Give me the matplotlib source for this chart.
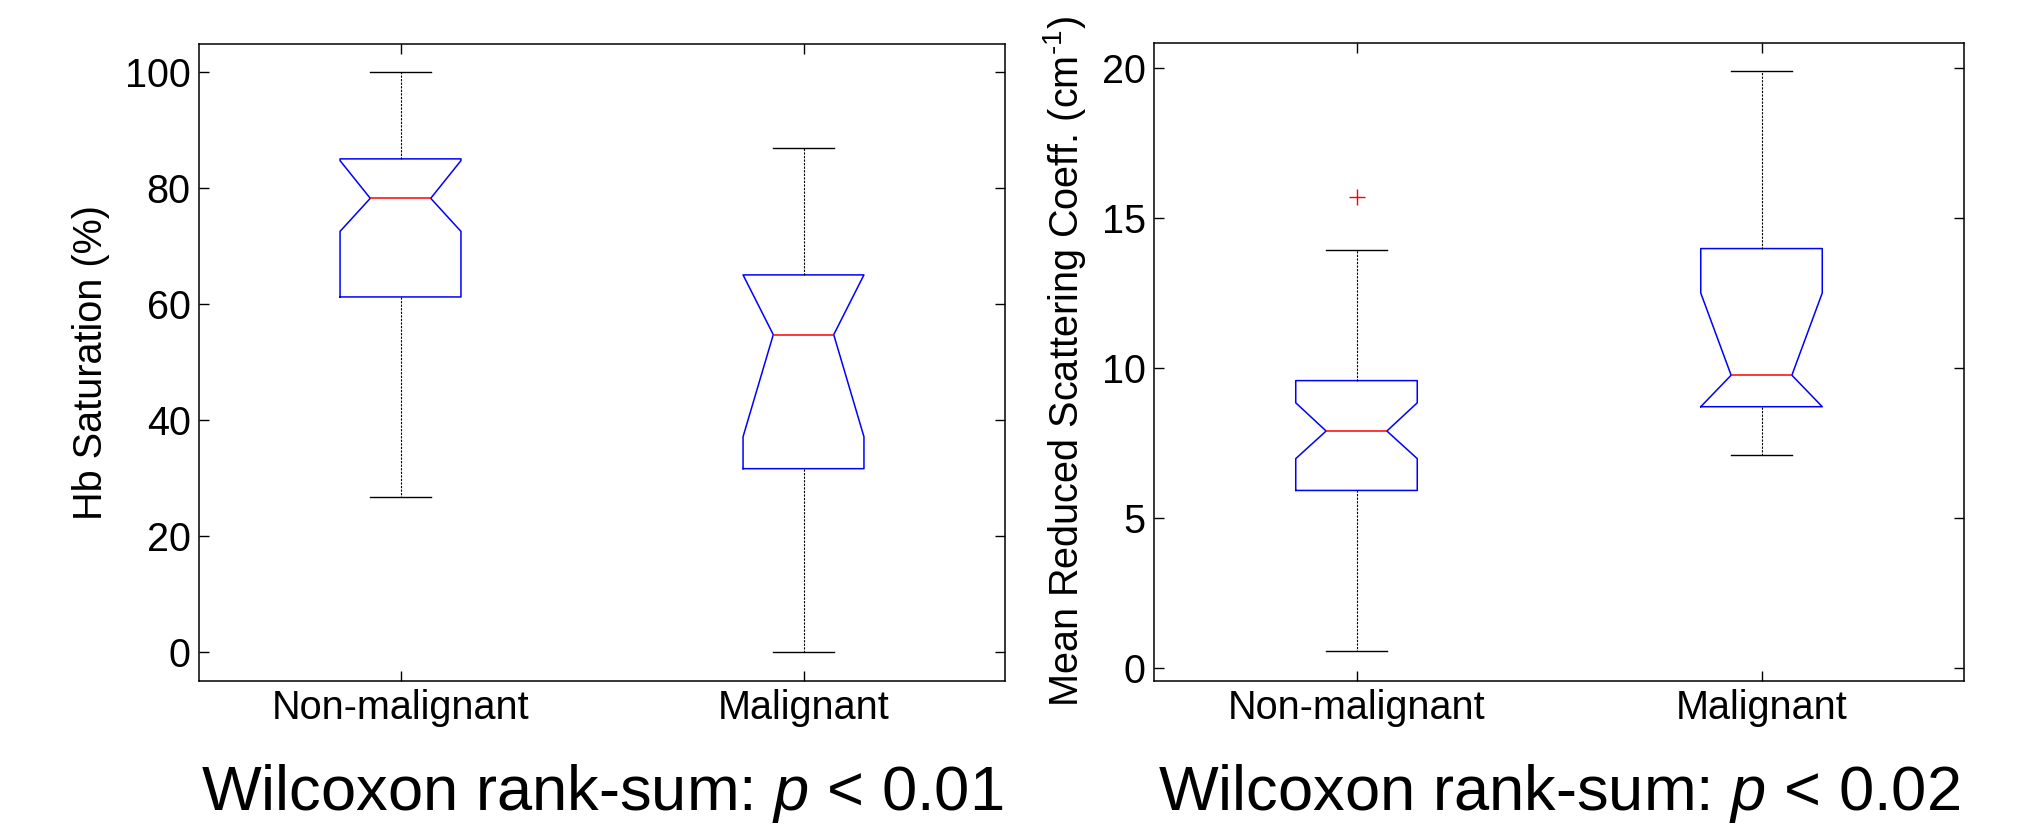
import matplotlib
matplotlib.use("Agg")
import matplotlib.pyplot as plt

plt.rcParams['font.family'] = ['Liberation Sans', 'DejaVu Sans']
plt.rcParams['mathtext.fontset'] = 'custom'
plt.rcParams['mathtext.rm'] = 'Liberation Sans'
plt.rcParams['mathtext.it'] = 'Liberation Sans:italic'

categories = ["Non-malignant", "Malignant"]

# Hb saturation (%) box statistics
hb_whislo = [26.8, 0.0]
hb_q1 = [61.2, 31.6]
hb_cilo = [72.5, 37.1]
hb_med = [78.2, 54.7]
hb_cihi = [84.7, 65.0]
hb_q3 = [85.0, 65.0]
hb_whishi = [100.0, 86.8]
hb_fliers = [[], []]

# Mean reduced scattering coefficient (cm^-1) box statistics
sc_whislo = [0.57, 7.10]
sc_q1 = [5.92, 8.71]
sc_cilo = [6.98, 8.71]
sc_med = [7.90, 9.76]
sc_cihi = [8.84, 12.5]
sc_q3 = [9.58, 13.98]
sc_whishi = [13.92, 19.89]
sc_fliers = [[15.7], []]

hb_ylabel = "Hb Saturation (%)"
sc_ylabel = "Mean Reduced Scattering Coeff. (cm$^{\\text{-1}}$)"
hb_note = "Wilcoxon rank-sum: $\\it{p}$ < 0.01"
sc_note = "Wilcoxon rank-sum: $\\it{p}$ < 0.02"


def make_stats(whislo, q1, cilo, med, cihi, q3, whishi, fliers):
    out = []
    for i in range(len(med)):
        out.append(dict(whislo=whislo[i], q1=q1[i], cilo=cilo[i], med=med[i],
                        cihi=cihi[i], q3=q3[i], whishi=whishi[i],
                        fliers=fliers[i]))
    return out


fig = plt.figure(figsize=(20.32, 8.31), dpi=100)
ax1 = fig.add_axes([199 / 2032, 150 / 831, 806 / 2032, 637 / 831])
ax2 = fig.add_axes([1154 / 2032, 150 / 831, 810 / 2032, 638 / 831])

box_kw = dict(
    positions=[1, 2], widths=0.3, shownotches=True, patch_artist=False,
    boxprops=dict(color='#0000ff', linewidth=1.1),
    medianprops=dict(color='#ff0000', linewidth=1.1),
    whiskerprops=dict(color='black', linewidth=0.8, linestyle=(0, (2.0, 1.2))),
    capprops=dict(color='black', linewidth=1.0),
    flierprops=dict(marker='+', markeredgecolor='#ff0000', markersize=11,
                    markeredgewidth=1.0, linestyle='none'),
)

ax1.bxp(make_stats(hb_whislo, hb_q1, hb_cilo, hb_med, hb_cihi, hb_q3,
                   hb_whishi, hb_fliers), **box_kw)
ax2.bxp(make_stats(sc_whislo, sc_q1, sc_cilo, sc_med, sc_cihi, sc_q3,
                   sc_whishi, sc_fliers), **box_kw)

ax1.set_ylim(-5.0, 104.8)
ax1.set_yticks([0, 20, 40, 60, 80, 100])
ax2.set_ylim(-0.43, 20.83)
ax2.set_yticks([0, 5, 10, 15, 20])

for ax, ylabel, note, lx in [(ax1, hb_ylabel, hb_note, -0.134),
                             (ax2, sc_ylabel, sc_note, -0.110)]:
    ax.set_xlim(0.5, 2.5)
    ax.set_xticks([1, 2])
    ax.set_xticklabels(categories)
    ax.tick_params(axis='both', direction='in', length=7.5, width=1.0,
                   labelsize=28.5, top=True, right=True, color='black')
    ax.tick_params(axis='x', pad=6)
    ax.tick_params(axis='y', pad=6)
    for s in ax.spines.values():
        s.set_linewidth(1.1)
        s.set_color('black')
    ax.text(lx, 0.5, ylabel, rotation=90, ha='center', va='center',
            fontsize=28.5, transform=ax.transAxes)
    ax.text(0.5, -0.2025, note, ha='center', va='baseline', fontsize=45.5,
            transform=ax.transAxes)

fig.savefig("out.png", dpi=100, facecolor='white')
